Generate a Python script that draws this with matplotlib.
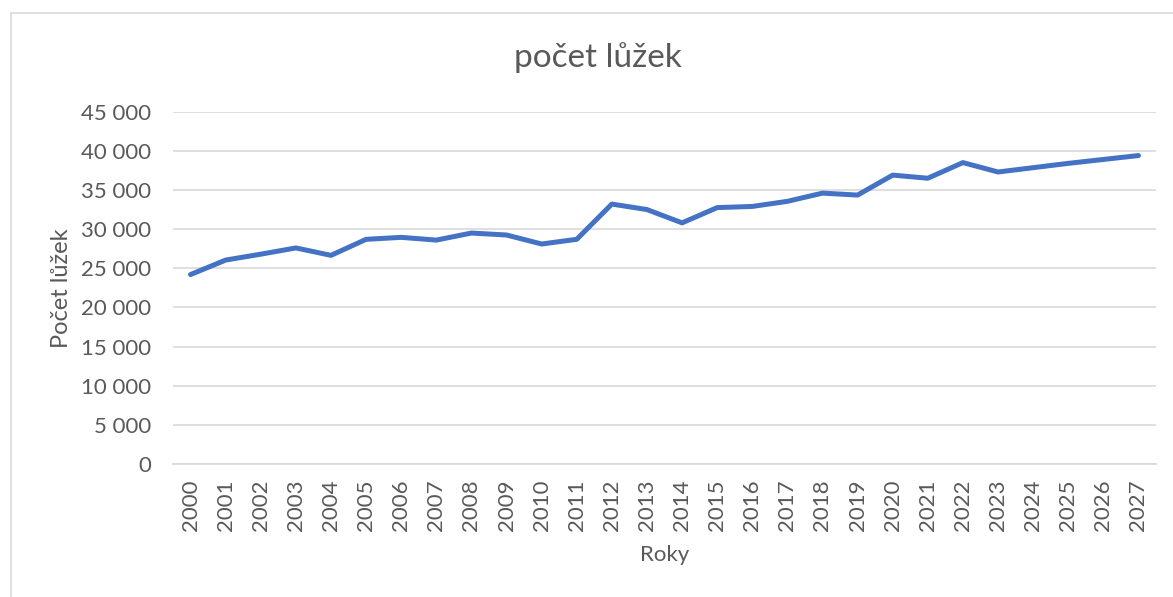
import matplotlib
matplotlib.use("Agg")
import matplotlib.pyplot as plt
from matplotlib.patches import Rectangle
from matplotlib.ticker import FuncFormatter, MultipleLocator

plt.rcParams["font.family"] = ["Lato", "DejaVu Sans"]

years = [str(y) for y in range(2000, 2028)]
beds = [24200, 26050, 26800, 27600, 26650, 28700, 28950, 28600, 29500, 29250,
        28100, 28700, 33200, 32500, 30800, 32750, 32900, 33550, 34600, 34350,
        36900, 36500, 38500, 37300, 37850, 38400, 38900, 39400]

TEXT = "#595959"
GRID = "#d9d9d9"
LINE = "#4472c4"

fig = plt.figure(figsize=(11.73, 5.97), dpi=100)
# chart frame (left and top edges visible in the reference)
fig.patches.append(Rectangle((11 / 1173, -0.1), 1.2, (597 - 13) / 597 + 0.1,
                             transform=fig.transFigure, fill=False,
                             edgecolor=GRID, lw=1.2))

ax = fig.add_axes([173 / 1173, (597 - 464) / 597, (1156 - 173) / 1173, (464 - 111.7) / 597])
x = list(range(len(years)))
ax.plot(x, beds, color=LINE, lw=3.6, solid_capstyle="round", solid_joinstyle="round", zorder=3)

ax.set_xlim(-0.5, len(years) - 0.5)
ax.set_ylim(0, 45000)
ax.yaxis.set_major_locator(MultipleLocator(5000))
ax.yaxis.set_major_formatter(FuncFormatter(lambda v, _: f"{int(v):,}".replace(",", " ")))
ax.set_xticks(x)
ax.set_xticklabels(years, rotation=90)

ax.grid(axis="y", color=GRID, lw=1.2)
ax.set_axisbelow(True)
for s in ["top", "right", "left"]:
    ax.spines[s].set_visible(False)
ax.spines["bottom"].set_color(GRID)
ax.spines["bottom"].set_linewidth(1.2)
ax.tick_params(axis="both", length=0, labelsize=16, colors=TEXT)
ax.tick_params(axis="y", pad=16)
ax.tick_params(axis="x", pad=11)

fig.text(598 / 1173, 1 - 58 / 597, "počet lůžek", fontsize=24, color=TEXT,
         ha="center", va="center")
ax.set_ylabel("Počet lůžek", fontsize=17, color=TEXT, labelpad=6)
ax.set_xlabel("Roky", fontsize=16, color=TEXT, labelpad=10)

fig.savefig("out.png", dpi=100)
